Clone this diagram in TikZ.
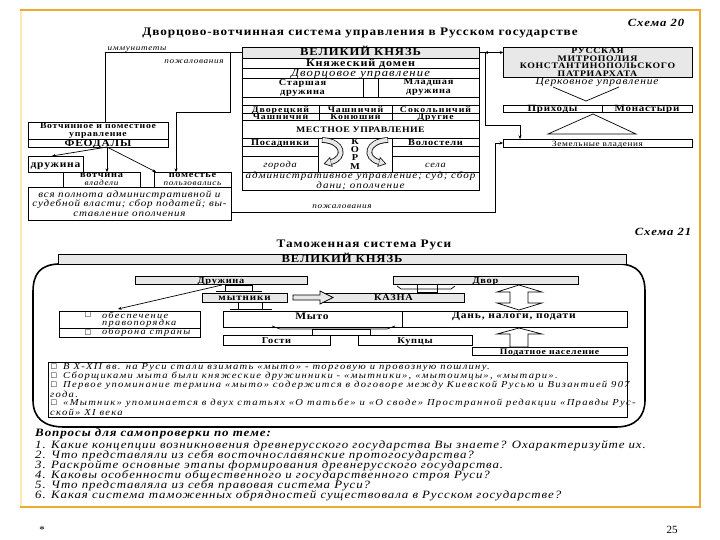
\documentclass[tikz,border=0pt]{standalone}
\usepackage{fontspec}
\setmainfont{Liberation Serif}[FakeStretch=1.15,LetterSpace=8]
\newfontfamily\plainf{Liberation Serif}
\newfontfamily\symf{DejaVu Sans}
\newcommand\fsz[2]{\fontsize{#1}{#2}\selectfont}
\newcommand\lsp[1]{\addfontfeatures{LetterSpace=#1}}
\usetikzlibrary{arrows.meta,calc}
\definecolor{orng}{RGB}{240,168,48}
\definecolor{pale}{RGB}{252,234,178}
\definecolor{gf}{RGB}{232,232,232}
\begin{document}
\begin{tikzpicture}[x=1pt,y=-1pt,
  box/.style={draw,line width=0.7pt,inner sep=0pt,outer sep=0pt,anchor=north west,align=center,font=\bfseries\fsz{9}{9}},
  gbox/.style={box,fill=gf},
  one/.style={text height=0.62em,text depth=0pt},
  wh/.style 2 args={minimum width=#1pt,minimum height=#2pt},
  lbl/.style={inner sep=0pt,align=center},
  lwest/.style={inner sep=0pt,anchor=west,align=left},
  ln/.style={line width=0.7pt},
  arr/.style={ln,-{Stealth[length=3.5pt,width=3pt]}},
  blk/.style={draw,line width=0.7pt},
  fat/.style={line width=5.6pt},
  fatin/.style={line width=4pt,gf}
]
\useasboundingbox (0,0) rectangle (720,540);
% page frame
\draw[pale,line width=1.5pt] (21,10) -- (21,507);
\draw[orng,line width=2.5pt] (20,10) -- (700,10) -- (700,507) -- (20,507);

% ================= Schema 20 =================
\node[lbl,font=\bfseries\fsz{11.5}{12}] (t20) at (360,33) {Дворцово-вотчинная система управления в Русском государстве};
\node[lbl,font=\bfseries\itshape\fsz{11}{12}] (s20) at (656,23) {Схема 20};

\node[gbox,one,wh={237}{11},font=\bfseries\fsz{11}{11}] (vk1) at (242,47) {ВЕЛИКИЙ КНЯЗЬ};
\node[box,one,wh={237}{10},font=\bfseries\fsz{10.5}{11}] (dom) at (242,58) {Княжеский домен};
\node[box,one,wh={237}{10},font=\lsp{10}\itshape\mdseries\fsz{11}{11}] (dvu) at (242,68) {Дворцовое управление};
\node[box,wh={121}{19},font=\bfseries\fsz{9}{9}] (st) at (242,78) {Старшая\\дружина};
\node[box,wh={15}{19}] (emp) at (363,78) {};
\node[box,wh={101}{19},font=\bfseries\fsz{9}{9}] (ml) at (378,78) {Младшая\\дружина};
\node[box,wh={237}{8}] (e2) at (242,97) {};
\node[box,one,wh={77}{8},font=\lsp{12}\bfseries\fsz{8.5}{8}] (r1a) at (242,105) {Дворецкий};
\node[box,one,wh={73}{8},font=\lsp{12}\bfseries\fsz{8.5}{8}] (r1b) at (319,105) {Чашничий};
\node[box,one,wh={87}{8},font=\lsp{12}\bfseries\fsz{8.5}{8}] (r1c) at (392,105) {Сокольничий};
\node[box,one,wh={77}{7},font=\lsp{12}\bfseries\fsz{8.5}{8}] (r2a) at (242,113) {Чашничий};
\node[box,one,wh={73}{7},font=\lsp{12}\bfseries\fsz{8.5}{8}] (r2b) at (319,113) {Конюший};
\node[box,one,wh={87}{7},font=\lsp{12}\bfseries\fsz{8.5}{8}] (r2c) at (392,113) {Другие};
\node[box,one,wh={237}{18},font=\lsp{5}\bfseries\fsz{8.5}{9}] (mu) at (242,120) {МЕСТНОЕ УПРАВЛЕНИЕ};
\node[box,one,wh={76}{8}] (pos) at (242,138) {Посадники};
\node[box,wh={76}{10}] (pe) at (242,146) {};
\node[box,one,wh={76}{16},font=\itshape\mdseries\fsz{9}{9}] (gor) at (242,156) {города};
\node[box,wh={74}{34}] (korm) at (318,138) {};
\node[box,one,wh={87}{8}] (vol) at (392,138) {Волостели};
\node[box,wh={87}{10}] (ve) at (392,146) {};
\node[box,one,wh={87}{16},font=\itshape\mdseries\fsz{9}{9}] (sel) at (392,156) {села};
\node[box,wh={237}{16},font=\lsp{10}\itshape\mdseries\fsz{9.6}{8}] (adm) at (242,172) {административное управление; суд; сбор\\дани; ополчение};

% КОРМ
\node[lbl,font=\bfseries\fsz{9}{9}] (k1) at (355,142) {К};
\node[lbl,font=\bfseries\fsz{9}{9}] (k2) at (355,150) {О};
\node[lbl,font=\bfseries\fsz{9}{9}] (k3) at (355,158) {Р};
\node[lbl,font=\bfseries\fsz{9}{9}] (k4) at (355,166.5) {М};
\draw[fat] (322,140) .. controls (344,141) and (346,158) .. (331,162);
\filldraw[fill=gf,line width=0.6pt] (332.2,166.4) -- (324.2,163.8) -- (329.8,157.6) -- cycle;
\draw[fatin] (322.4,140) .. controls (344,141) and (346,158) .. (331,162);
\draw[fat] (388,140) .. controls (366,141) and (364,158) .. (379,162);
\filldraw[fill=gf,line width=0.6pt] (377.8,166.4) -- (385.8,163.8) -- (380.2,157.6) -- cycle;
\draw[fatin] (387.6,140) .. controls (366,141) and (364,158) .. (379,162);

% Church side
\node[gbox,wh={189}{30},font=\bfseries\fsz{8.5}{7.5}] (metr) at (503,47) {РУССКАЯ\\МИТРОПОЛИЯ\\КОНСТАНТИНОПОЛЬСКОГО\\ПАТРИАРХАТА};
\node[lbl,font=\itshape\fsz{10}{10}] (cu) at (597,82) {Церковное управление};
\draw[ln] (553,87) -- (586,101) -- (619,87);
\node[box,one,wh={99}{7},font=\bfseries\fsz{9.5}{10}] (pri) at (503,105) {Приходы};
\node[box,one,wh={90}{7},font=\bfseries\fsz{9.5}{10}] (mon) at (602,105) {Монастыри};
\draw[ln] (548,134) -- (593,114) -- (636,134) -- cycle;
\node[box,one,wh={189}{8},font=\mdseries\fsz{8}{8}] (zem) at (503,139) {Земельные владения};

% Left block
\node[box,wh={140}{17},font=\bfseries\fsz{8.5}{8.5}] (vpu) at (28,122) {Вотчинное и поместное\\управление};
\node[box,one,wh={140}{8},font=\bfseries\fsz{10}{10}] (feod) at (28,139) {ФЕОДАЛЫ};
\node[box,one,wh={55}{16},font=\bfseries\fsz{10}{10}] (dr) at (28,156) {дружина};
\node[box,wh={77}{15},font=\bfseries\fsz{9}{7.5}] (vot) at (63,172) {вотчина\\{\mdseries\itshape\fsz{8}{7.5}владели}};
\node[box,wh={77}{15},font=\bfseries\fsz{9}{7.5}] (pom) at (154,172) {поместье\\{\mdseries\itshape\fsz{8}{7.5}пользовались}};
\node[box,wh={203}{33},font=\itshape\mdseries\fsz{9.6}{9.3}] (vsya) at (28,187) {вся полнота административной и\\судебной власти; сбор податей; вы-\\ставление ополчения};

\node[lbl,font=\itshape\fsz{8}{8}] (imm) at (137,49) {иммунитеты};
\node[lbl,font=\itshape\fsz{8}{8}] (pz1) at (194,62) {пожалования};
\node[lbl,font=\itshape\fsz{8}{8}] (pz2) at (342,207) {пожалования};

% connectors schema 20
\coordinate (ia) at (105,52.5);
\coordinate (ib) at (230,52.5);
\draw[ln] (vk1.west) -- (ia) -- (ia |- vpu.north);
\draw[arr] (ib) -- (230,112) -| ($(pom.north west)+(22,0)$);
\coordinate (f0) at ($(feod.south)+(9,0)$);
\draw[arr] (f0) -- ($(dr.north east)+(-31,0)$);
\draw[arr] (f0) -- (f0 |- vot.north);
\draw[arr] (f0) -- ($(pom.north west)+(2,0)$);
\coordinate (q1) at (495,212);
\draw[arr] ($(vsya.east)+(0,8.5)$) -- (q1) |- (zem.west);
\coordinate (q2) at (485,52.5);
\coordinate (q3) at (485,125);
\draw[arr] (vk1.east) -- (q2) -- (q3) -| ($(zem.north west)+(17,0)$);
\draw[ln,{Stealth[length=3pt,width=3pt]}-{Stealth[length=3pt,width=3pt]}] (q2) -- (q2 -| metr.west);

% ================= Schema 21 =================
\node[lbl,font=\bfseries\itshape\fsz{11}{12}] (s21) at (663,232) {Схема 21};
\node[lbl,font=\bfseries\fsz{11.5}{12}] (t21) at (364,245) {Таможенная система Руси};

\draw[line width=1.6pt] (58,264) .. controls (40,265) and (33,274) .. (33,292) -- (33,400)
  .. controls (33,418) and (44,427) .. (64,427) -- (616,427)
  .. controls (636,427) and (645,416) .. (645,400) -- (645,292)
  .. controls (645,274) and (638,265) .. (620,264);

\node[gbox,one,wh={568}{10},font=\bfseries\fsz{11}{11}] (vk2) at (58,254) {ВЕЛИКИЙ КНЯЗЬ};
\node[gbox,one,wh={172}{8},font=\bfseries\fsz{9}{9}] (druz) at (135,276) {Дружина};
\node[gbox,one,wh={185}{8},font=\bfseries\fsz{9}{9}] (dvor) at (393,276) {Двор};
\node[gbox,one,wh={85}{9},font=\lsp{10}\bfseries\fsz{9.5}{10}] (myt) at (202,293) {мытники};
\node[gbox,one,wh={141}{9},font=\bfseries\fsz{9}{9}] (kaz) at (323,293) {КАЗНА};

\node[box,wh={141}{17}] (obes) at (59,311) {};
\node[box,wh={141}{9}] (obor) at (59,328) {};
\node[lbl,font=\symf\fsz{7}{7}] (cb1) at (88,315) {□};
\node[lbl,font=\symf\fsz{7}{7}] (cb2) at (88,332.5) {□};
\node[lwest,font=\lsp{14}\itshape\fsz{9}{9}] (ob1) at (102,315) {обеспечение};
\node[lwest,font=\lsp{14}\itshape\fsz{9}{9}] (ob2) at (102,323.5) {правопорядка};
\node[lwest,font=\lsp{14}\itshape\fsz{9}{9}] (ob3) at (102,332.5) {оборона страны};

\node[box,wh={179}{16}] (myto) at (223,311) {};
\node[box,wh={225}{16}] (dan) at (402,311) {};
\node[lbl,font=\bfseries\fsz{10}{10}] (mytot) at (312,316) {Мыто};
\node[lbl,font=\bfseries\fsz{10}{10}] (dant) at (514,316) {Дань, налоги, подати};
\node[box,one,wh={107}{10},font=\bfseries\fsz{9}{9}] (gos) at (223,335) {Гости};
\node[box,one,wh={114}{10},font=\bfseries\fsz{9}{9}] (kup) at (358,335) {Купцы};
\node[box,one,wh={155}{8},font=\bfseries\fsz{8.5}{9}] (pod) at (472,347) {Податное население};

% connectors schema 21
\draw[arr] ($(druz.south)+(1,1)$) -- ($(obes.north west)+(59,-2)$);
\draw[ln] (216,291) -- (262,291);
\draw[ln] (225,285) rectangle (252,291);
\draw[ln] (230,309) -- (272,309);
\draw[ln] (238,302) rectangle (262,309);
\draw[ln] (397,286) -- (401,289) -- (451,289) -- (455,286);
\draw[ln] (417,284) rectangle (437,292);
\draw[ln] (272,326) -- (280,329) -- (387,329) -- (395,326);
\draw[ln] (312,329) rectangle (370,335);
\filldraw[blk,fill=gf] (293,295) -- (320,295) -- (320,291) -- (333,297.5) -- (320,304) -- (320,300) -- (293,300) -- cycle;
\filldraw[blk,fill=white] (519,285) -- (542,292) -- (528,292) -- (528,303) -- (542,303) -- (519,310)
  -- (497,303) -- (510,303) -- (510,292) -- (497,292) -- cycle;
\filldraw[blk,fill=white] (519,328) -- (542,334) -- (528,334) -- (528,347) -- (510,347) -- (510,334) -- (497,334) -- cycle;

% note box
\node[box,wh={579}{55}] (note) at (48,362) {};
\node[lbl,font=\symf\fsz{7}{7}] (nb1) at (54,367) {□};
\node[lbl,font=\symf\fsz{7}{7}] (nb2) at (54,376) {□};
\node[lbl,font=\symf\fsz{7}{7}] (nb3) at (54,385) {□};
\node[lbl,font=\symf\fsz{7}{7}] (nb4) at (54,403) {□};
\node[lwest,font=\lsp{14}\itshape\fsz{9.2}{9}] (n1) at (63,367) {В X-XII вв. на Руси стали взимать «мыто» - торговую и провозную пошлину.};
\node[lwest,font=\lsp{14}\itshape\fsz{9.2}{9}] (n2) at (63,376) {Сборщиками мыта были княжеские дружинники - «мытники», «мытоимцы», «мытари».};
\node[lwest,font=\lsp{14}\itshape\fsz{9.2}{9}] (n3) at (63,385) {Первое упоминание термина «мыто» содержится в договоре между Киевской Русью и Византией 907};
\node[lwest,font=\lsp{14}\itshape\fsz{9.2}{9}] (n3b) at (50,394) {года.};
\node[lwest,font=\lsp{14}\itshape\fsz{9.2}{9}] (n4) at (63,403) {«Мытник» упоминается в двух статьях «О татьбе» и «О своде» Пространной редакции «Правды Рус-};
\node[lwest,font=\lsp{14}\itshape\fsz{9.2}{9}] (n4b) at (50,412) {ской» XI века};

% questions
\node[lwest,font=\bfseries\itshape\fsz{11.3}{10}] (qh) at (35,434) {Вопросы для самопроверки по теме:};
\node[lwest,font=\itshape\fsz{11.2}{10}] (q1) at (35,446) {1. Какие концепции возникновения древнерусского государства Вы знаете? Охарактеризуйте их.};
\node[lwest,font=\itshape\fsz{11.2}{10}] (q2) at (35,456) {2. Что представляли из себя восточнославянские протогосударства?};
\node[lwest,font=\itshape\fsz{11.2}{10}] (q3) at (35,466) {3. Раскройте основные этапы формирования древнерусского государства.};
\node[lwest,font=\itshape\fsz{11.2}{10}] (q4) at (35,476) {4. Каковы особенности общественного и государственного строя Руси?};
\node[lwest,font=\itshape\fsz{11.2}{10}] (q5) at (35,486) {5. Что представляла из себя правовая система Руси?};
\node[lwest,font=\itshape\fsz{11.2}{10}] (q6) at (35,496) {6. Какая система таможенных обрядностей существовала в Русском государстве?};

% footer
\node[lbl,font=\plainf\fsz{11}{12}] (star) at (42,530) {*};
\node[lbl,font=\plainf\fsz{11}{12}] (pg) at (672,530) {25};
\end{tikzpicture}
\end{document}
